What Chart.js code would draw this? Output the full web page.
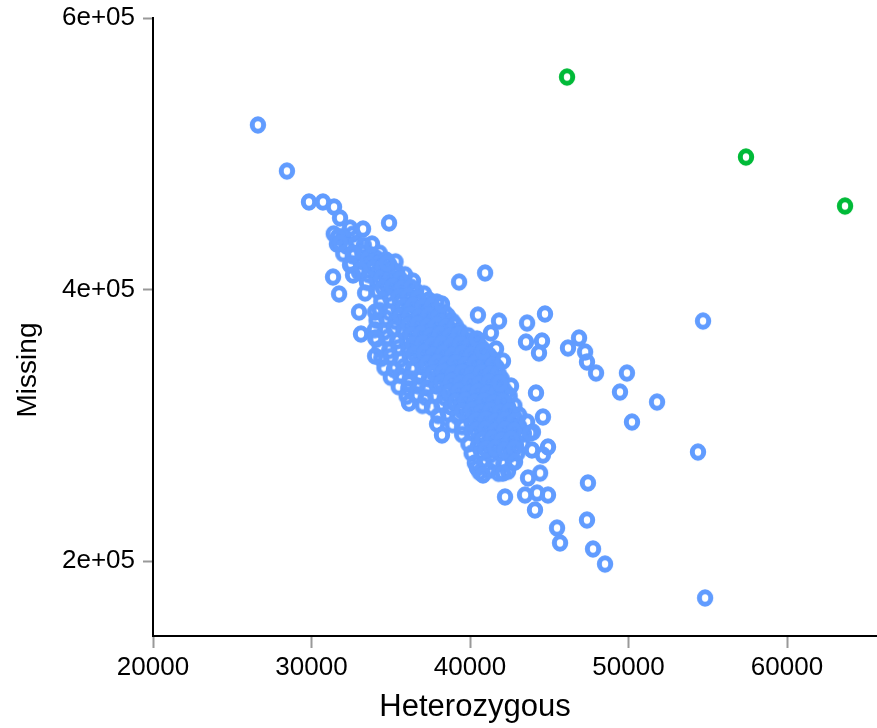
<!DOCTYPE html>
<html>
<head>
<meta charset="utf-8">
<script src="https://cdn.jsdelivr.net/npm/chart.js@4.4.0/dist/chart.umd.min.js"></script>
<style>
  html, body { margin:0; padding:0; background:#fff; }
  #wrap { width:877px; height:728px; }
</style>
</head>
<body>
<div id="wrap"><canvas id="chart" width="877" height="728"></canvas></div>
<script>
// ── data: [heterozygous, missing] ───────────────────────────────────────────
const xTicks = [20000, 30000, 40000, 50000, 60000];
const yTicks = [200000, 400000, 600000];

// dense core of the main cloud
const blueCore = [
  [31400,441000],[32000,439200],[32600,440800],
  [31600,433500],[32200,432000],[32800,434200],[33300,432600],
  [32000,426400],[32600,424800],[33200,427000],[33800,425500],[34300,426800],
  [32500,419200],[33100,420600],[33700,418300],[34300,419900],[34900,418700],[35300,420400],
  [33000,412600],[33600,411000],[34200,413100],[34800,411500],[35400,412800],[35900,410900],
  [33500,405300],[34100,406800],[34700,404200],[35300,405900],[35900,404400],[36400,406200],
  [34200,398600],[34800,397000],[35400,399200],[36000,397400],[36600,398800],[37100,396900],
  [34400,391200],[35000,392700],[35600,390400],[36200,391900],[36800,390100],[37400,392300],[37900,390800],
  [34300,384600],[34900,383100],[35500,385200],[36100,383500],[36700,384900],[37300,382800],[37900,384400],[38400,383000],
  [34100,377300],[34700,378900],[35300,376500],[35900,377800],[36500,376200],[37100,378400],[37700,376800],[38300,378100],[38900,376600],
  [34000,370400],[34600,368800],[35200,371200],[35800,369500],[36400,371000],[37000,369200],[37600,370700],[38200,368600],[38800,370300],[39400,369000],
  [34100,363300],[34800,364800],[35400,362200],[36000,363900],[36600,362500],[37200,364300],[37800,362700],[38400,364000],[39000,362300],[39600,363700],[40200,362600],
  [34300,356400],[34900,355000],[35500,357200],[36100,355600],[36700,356900],[37300,355200],[37900,357000],[38500,355400],[39100,356700],[39700,355100],[40300,356500],[40900,355300],
  [34400,349200],[35000,350700],[35600,348400],[36200,349800],[36800,348100],[37400,350200],[38000,348700],[38600,350000],[39200,348300],[39800,349600],[40400,348500],[41000,350100],[41400,348800],
  [34600,342500],[35200,341000],[35800,343200],[36400,341600],[37000,342900],[37600,341200],[38200,343000],[38800,341500],[39400,342700],[40000,341300],[40600,342800],[41200,341400],[41700,342600],
  [35000,335300],[35600,336800],[36200,334500],[36800,335900],[37400,334200],[38000,336200],[38600,334700],[39200,335800],[39800,334400],[40400,336000],[41000,334600],[41600,335700],[42000,334300],
  [35500,328400],[36100,327000],[36700,329100],[37300,327500],[37900,328800],[38500,327100],[39100,328600],[39700,327300],[40300,328900],[40900,327400],[41500,328500],[42100,327200],
  [36000,321300],[36600,322700],[37200,320500],[37800,321900],[38400,320300],[39000,322200],[39600,320700],[40200,321800],[40800,320400],[41400,322000],[42000,320600],[42500,321500],
  [37000,314600],[37600,313200],[38200,315100],[38800,313500],[39400,314800],[40000,313100],[40600,314700],[41200,313400],[41800,315000],[42400,313600],[42800,314400],
  [38000,307200],[38600,308600],[39200,306400],[39800,307900],[40400,306300],[41000,308100],[41600,306600],[42200,307800],[42800,306500],[43100,307600],
  [38900,300400],[39500,299000],[40100,301100],[40700,299400],[41300,300800],[41900,299200],[42500,300600],[43100,299300],
  [39500,293200],[40100,294600],[40700,292400],[41300,293900],[41900,292200],[42500,294100],[43100,292600],[43400,293800],
  [39900,286300],[40500,285000],[41100,287100],[41700,285400],[42300,286800],[42900,285200],[43300,286500],
  [40100,279400],[40700,280600],[41300,278300],[41900,279800],[42500,278500],[43000,279600],
  [40300,272300],[40900,271000],[41500,273000],[42100,271400],[42700,272600],
  [40600,265400],[41200,266800],[41800,264600],[42400,266100]
];

// extra samples packed between the core rows, where the cloud is solid
const blueCoreFill = [
  [33500,422300],[34100,423100],[34700,421800],
  [33900,415400],[34500,416200],[35100,414700],
  [34400,408300],[35000,409100],[35600,407600],
  [34500,401200],[35100,402000],[35700,400600],[36300,401700],
  [35500,394300],[36100,395100],[36700,393600],
  [35800,387400],[36400,388200],[37000,386800],[37600,387900],
  [35600,380300],[36200,381100],[36800,379700],[37400,380900],[38000,379500],[38600,380600],
  [36100,373400],[36700,374200],[37300,372600],[37900,373800],[38500,372400],[39100,373500],
  [36300,366300],[36900,367100],[37500,365700],[38100,366800],[38700,365400],[39300,366600],[39900,365900],
  [36400,359200],[37000,360100],[37600,358600],[38200,359700],[38800,358300],[39400,359500],[40000,358800],[40600,359300],
  [36500,352300],[37100,353100],[37700,351600],[38300,352800],[38900,351400],[39500,352600],[40100,351900],[40700,352400],[41200,351700],
  [37300,345200],[37900,346000],[38500,344600],[39100,345700],[39700,344300],[40300,345500],[40900,344800],[41500,345300],
  [37700,338300],[38300,339100],[38900,337600],[39500,338700],[40100,337300],[40700,338500],[41300,337800],[41800,338300],
  [38200,331200],[38800,332000],[39400,330600],[40000,331700],[40600,330300],[41200,331500],[41800,330900],
  [38700,324300],[39300,325100],[39900,323600],[40500,324700],[41100,323300],[41700,324500],[42300,323800],
  [39100,317200],[39700,318000],[40300,316600],[40900,317700],[41500,316300],[42100,317500],
  [39500,310300],[40100,311100],[40700,309600],[41300,310700],[41900,309300],[42500,310500],
  [40400,303200],[41000,304000],[41600,302600],[42200,303700],[42800,302900],
  [40400,296300],[41000,297100],[41600,295600],[42200,296700],[42800,295900],
  [40800,289200],[41400,290000],[42000,288600],[42600,289700],
  [41000,282300],[41600,283100],[42200,281700],[42800,282800]
];

// scattered points around the cloud
const blueSpread = [
  [26620,521200],[28450,487300],[29840,464500],[30720,464500],[31420,460800],[31800,452700],
  [32430,445300],[33250,444600],[34890,449000],[31670,438700],[31800,434300],[33820,433500],
  [32620,426900],[32430,418100],[33060,414400],[34760,419500],[31360,409200],[32620,410700],
  [31740,396700],[33380,397400],[33000,383400],[34010,383400],[33120,367200],[34010,364300],
  [34010,351000],
  [39310,405500],[40950,412200],[38230,389300],[40500,381200],[41830,376800],[41320,368000],
  [40440,363600],[40820,354700],[41640,356200],[42080,347300],[43600,375300],[44730,382000],
  [43530,361300],[44540,362100],[44350,353200],[46180,356900],[46880,364300],[47260,354000],
  [47380,346600],[47950,338500],[49900,338500],[49460,324500],[51800,317100],[50220,302400],
  [54700,376800],[54380,280300],[54830,172800],
  [42590,328900],[44160,323800],[44600,306100],[36150,331100],[36150,316400],[37920,300900],
  [38230,292800],[43600,302400],[43970,295000],[43910,281800],[44920,284000],[44600,278100],
  [40440,268500],[40820,263400],[42080,264800],[42840,273000],[44420,264800],[43660,261200],
  [42210,247200],[43470,248600],[44230,250100],[44920,248600],[44100,237600],[47440,257500],
  [47380,230200],[45490,224300],[45680,213300],[47760,208900],[48520,197800],[41890,331100],
  [43790,294300]
];

const greenOutliers = [[46120,556500],[57410,497600],[63660,461500]];

// ── helpers ──────────────────────────────────────────────────────────────────
const FONT = "'Liberation Sans', Arial, sans-serif";

// bold "o"-like ring, a touch taller than wide
function ring(color) {
  const c = document.createElement('canvas');
  c.width = 22; c.height = 22;
  const g = c.getContext('2d');
  g.strokeStyle = color;
  g.lineWidth = 5;
  g.beginPath();
  g.ellipse(11, 11, 5.7, 6.2, 0, 0, Math.PI * 2);
  g.stroke();
  return c;
}

const toXY = a => a.map(p => ({ x: p[0], y: p[1] }));

// axis titles sit off-centre in the reference, so draw them by hand
const axisTitles = {
  id: 'axisTitles',
  afterDraw(chart) {
    const ctx = chart.ctx;
    ctx.save();
    ctx.fillStyle = '#000';
    ctx.textAlign = 'center';
    ctx.textBaseline = 'middle';
    ctx.font = '31px ' + FONT;
    ctx.fillText('Heterozygous', 475, 707);
    ctx.font = '28px ' + FONT;
    ctx.translate(28, 370);
    ctx.rotate(-Math.PI / 2);
    ctx.fillText('Missing', 0, 0);
    ctx.restore();
  }
};

// keep tick-label overflow from pushing the plot box around
const noLabelPad = s => { s.paddingTop = 0; s.paddingBottom = 0; s.paddingLeft = 0; s.paddingRight = 0; };

new Chart(document.getElementById('chart'), {
  type: 'scatter',
  data: {
    datasets: [
      { data: toXY(blueCore.concat(blueCoreFill, blueSpread)), pointStyle: ring('#619CFF'), pointRadius: 6, pointHoverRadius: 6 },
      { data: toXY(greenOutliers), pointStyle: ring('#00BA38'), pointRadius: 6, pointHoverRadius: 6 }
    ]
  },
  options: {
    responsive: false,
    animation: false,
    events: [],
    layout: { autoPadding: false, padding: { top: 18, right: 0, left: 0, bottom: 0 } },
    plugins: { legend: { display: false }, tooltip: { enabled: false } },
    scales: {
      x: {
        type: 'linear',
        min: 20000, max: 65677,
        afterBuildTicks: s => { s.ticks = xTicks.map(v => ({ value: v })); },
        afterFit: s => { s.height = 92; noLabelPad(s); },
        border: { display: true, color: '#000', width: 2 },
        grid: { drawOnChartArea: false, drawTicks: true, tickLength: 12, tickColor: '#999', tickWidth: 2 },
        ticks: { color: '#000', font: { family: FONT, size: 26 }, padding: 4, maxRotation: 0, callback: v => String(v) }
      },
      y: {
        type: 'linear',
        min: 144781, max: 600000,
        afterBuildTicks: s => { s.ticks = yTicks.map(v => ({ value: v })); },
        afterFit: s => { s.width = 153; noLabelPad(s); },
        border: { display: true, color: '#000', width: 2 },
        grid: { drawOnChartArea: false, drawTicks: true, tickLength: 10, tickColor: '#999', tickWidth: 2 },
        ticks: { color: '#000', font: { family: FONT, size: 26 }, padding: 8, callback: v => (v / 100000) + 'e+05' }
      }
    }
  },
  plugins: [axisTitles]
});
</script>
</body>
</html>
